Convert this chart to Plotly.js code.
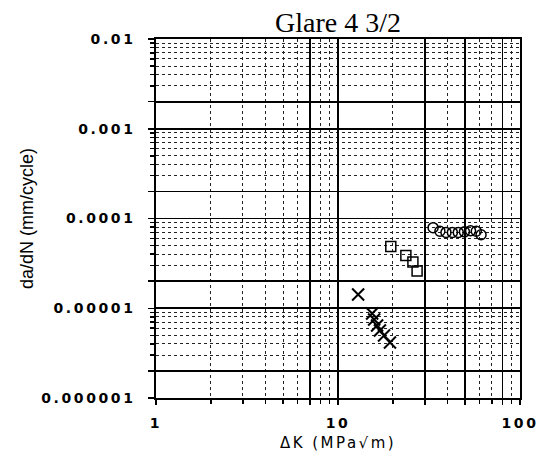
<!DOCTYPE html>
<html>
<head>
<meta charset="utf-8">
<script src="https://cdn.plot.ly/plotly-3.0.1.min.js"></script>
<style>
  html, body { margin: 0; padding: 0; background: #fff; }
  #chart { width: 539px; height: 463px; }
  .xtick text, .ytick text { letter-spacing: 2.6px; }
  .g-xtitle text { letter-spacing: 2.5px; }
</style>
</head>
<body>
<div id="chart"></div>
<script>
// ---- data ----
const circleK = [33.3, 36.3, 39.2, 42.5, 45.8, 49.5, 53.5, 57.5, 61.1];
const circleRate = [7.9e-5, 7.2e-5, 7.0e-5, 7.0e-5, 7.0e-5, 7.1e-5, 7.3e-5, 7.2e-5, 6.6e-5];

const squareK = [19.5, 23.6, 25.8, 27.2];
const squareRate = [4.88e-5, 3.87e-5, 3.28e-5, 2.60e-5];

const crossK = [12.9, 15.4, 15.8, 16.4, 17.0, 17.9, 19.3];
const crossRate = [1.42e-5, 8.75e-6, 7.5e-6, 6.43e-6, 5.65e-6, 4.97e-6, 4.15e-6];

// ---- axis ticks ----
const xMajorVals = [1, 7, 10, 30, 50, 80, 100];
const xMajorText = ['1', '', '10', '', '', '', '100'];
const xMinorVals = [2, 3, 4, 5, 6, 8, 9, 20, 40, 60, 70, 90];

const yMajorVals = [1e-6, 2e-6, 1e-5, 2e-5, 1e-4, 2e-4, 1e-3, 2e-3, 1e-2];
const yMajorText = ['0.000001', '', '0.00001', '', '0.0001', '', '0.001', '', '0.01'];
const yMinorVals = [];
[1e-6, 1e-5, 1e-4, 1e-3].forEach(d => { for (let m = 3; m <= 9; m++) yMinorVals.push(m * d); });

const titleText = 'Glare 4 3/2';
const xTitle = 'ΔK (MPa√m)';
const yTitle = 'da/dN (mm/cycle)';

const tickFont = {family: 'DejaVu Sans', size: 14, color: '#000', weight: 'bold'};

const traces = [
  {x: circleK, y: circleRate, mode: 'markers', type: 'scatter',
   marker: {symbol: 'circle-open', size: 10, color: '#000', line: {width: 1.5, color: '#000'}}},
  {x: squareK, y: squareRate, mode: 'markers', type: 'scatter',
   marker: {symbol: 'square-open', size: 10, color: '#000', line: {width: 1.5, color: '#000'}}},
  {x: crossK, y: crossRate, mode: 'markers', type: 'scatter',
   marker: {symbol: 'x-thin-open', size: 12, color: '#000', line: {width: 2, color: '#000'}}}
];

const layout = {
  width: 539, height: 463,
  margin: {l: 156, r: 19, t: 39, b: 65},
  paper_bgcolor: '#fff', plot_bgcolor: '#fff',
  showlegend: false,
  title: {text: titleText, x: 0.5, xref: 'paper', xanchor: 'center',
          y: 0.951, yref: 'container', yanchor: 'middle',
          font: {family: 'Liberation Serif', size: 28, color: '#000'}},
  xaxis: {
    type: 'log', range: [0, 2],
    tickmode: 'array', tickvals: xMajorVals, ticktext: xMajorText,
    ticks: 'outside', ticklen: 5, tickwidth: 1.5, tickcolor: '#000',
    ticklabelstandoff: 6,
    tickfont: tickFont,
    showgrid: true, gridcolor: '#000', gridwidth: 1.7,
    showline: true, linecolor: '#000', linewidth: 1.7, mirror: true,
    zeroline: false,
    minor: {tickmode: 'array', tickvals: xMinorVals, ticks: 'outside', ticklen: 4,
            tickcolor: '#000', showgrid: true, gridcolor: '#222', gridwidth: 1, griddash: 'dot'},
    title: {text: xTitle, standoff: 8, font: {family: 'DejaVu Sans', size: 15, color: '#000'}}
  },
  yaxis: {
    type: 'log', range: [-6, -2],
    tickmode: 'array', tickvals: yMajorVals, ticktext: yMajorText,
    ticks: 'outside', ticklen: 6, tickwidth: 1.5, tickcolor: '#000',
    ticklabelstandoff: 10,
    tickfont: tickFont,
    showgrid: true, gridcolor: '#000', gridwidth: 1.7,
    showline: true, linecolor: '#000', linewidth: 1.7, mirror: true,
    zeroline: false,
    minor: {tickmode: 'array', tickvals: yMinorVals, ticks: 'outside', ticklen: 4,
            tickcolor: '#000', showgrid: true, gridcolor: '#222', gridwidth: 1, griddash: 'dot'},
    title: {text: yTitle, standoff: 3, font: {family: 'Liberation Sans', size: 18, color: '#000'}}
  }
};

Plotly.newPlot('chart', traces, layout, {displayModeBar: false, staticPlot: true});
</script>
</body>
</html>
